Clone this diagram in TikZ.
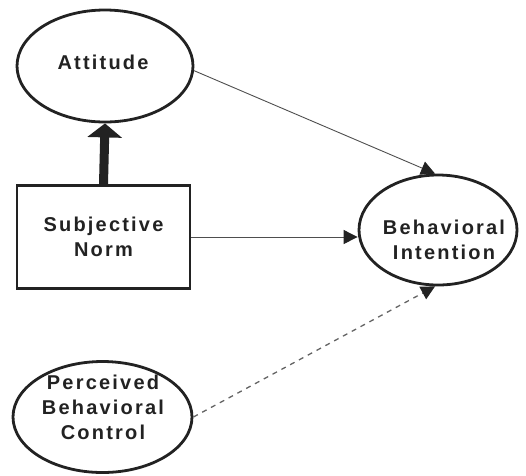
\documentclass[tikz,border=0pt]{standalone}
\usepackage{fontspec}
\setmainfont{Liberation Sans}[BoldFont={* Bold}]
\newfontfamily\labelfont{Liberation Sans Bold}[LetterSpace=11]
\usetikzlibrary{shapes.geometric,arrows.meta}
\definecolor{ink}{HTML}{222222}
\begin{document}
\begin{tikzpicture}[x=1pt,y=-1pt,
  every node/.style={font=\labelfont\fontsize{20}{25}\selectfont, text=ink, align=center, inner sep=0pt},
  construct/.style={ellipse, draw=ink, line width=2.8pt},
  observed/.style={rectangle, draw=ink, line width=2.8pt},
  tip/.style={-{Triangle[length=14pt,width=14pt,color=ink]}},
  path/.style={draw=ink!80, line width=0.9pt, tip},
  weakpath/.style={draw=ink!70, line width=1.3pt, dash pattern=on 5pt off 5pt, tip},
  strongpath/.style={draw=ink, line width=9pt, -{Triangle[length=14pt,width=34pt]}}]
\useasboundingbox (0,0) rectangle (526,475);

\node[construct, minimum width=176pt, minimum height=112pt] (att) at (105,66) {};
\node at (103,62) {Attitude};

\node[observed, minimum width=173pt, minimum height=103pt] (sn) at (103.5,237) {Subjective\\Norm};

\node[construct, minimum width=158pt, minimum height=110pt] (bi) at (438,230) {};
\node at (444,240) {Behavioral\\Intention};

\node[construct, minimum width=179pt, minimum height=111pt] (pbc) at (102.5,417) {};
\node at (103,407) {Perceived\\Behavioral\\Control};

\draw[strongpath] (sn.north) -- (att.south);
\draw[path] (att.-3) -- (bi.93);
\draw[path] (sn.east) -- (sn.east -| bi.west);
\draw[weakpath] (pbc.east) -- (bi.-93);
\end{tikzpicture}
\end{document}
